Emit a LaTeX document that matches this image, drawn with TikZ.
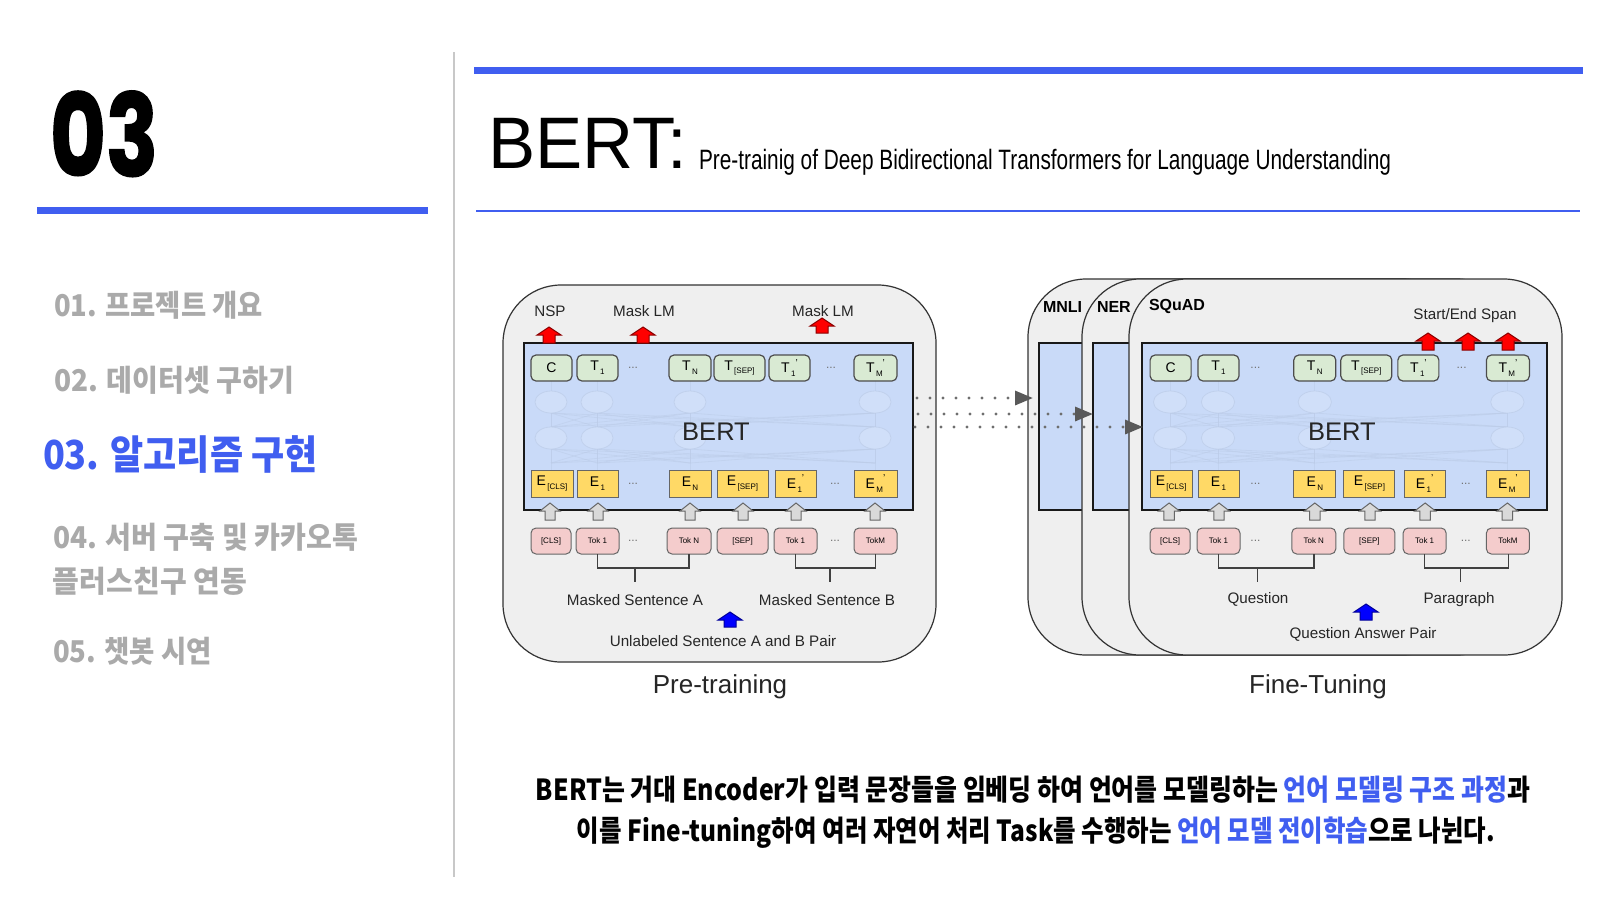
\documentclass[tikz,border=0pt]{standalone}
\usepackage{fontspec}
\setmainfont{Liberation Sans}
\newfontfamily\kr{Noto Sans CJK KR}
\newfontfamily\numfont{Poppins}[BoldFeatures={FakeBold=1.5}]
\usetikzlibrary{arrows.meta,calc}

\definecolor{accent}{RGB}{64,94,240}
\definecolor{menugray}{RGB}{170,170,170}
\definecolor{divgray}{RGB}{200,200,200}
\definecolor{panelfill}{RGB}{239,239,239}
\definecolor{bertfill}{RGB}{201,218,248}
\definecolor{ghostfill}{RGB}{208,223,249}
\definecolor{ghostline}{RGB}{188,204,232}
\definecolor{tgreen}{RGB}{217,234,211}
\definecolor{eyellow}{RGB}{255,217,102}
\definecolor{tokpink}{RGB}{244,204,204}
\definecolor{upgray}{RGB}{217,217,217}
\definecolor{dotgray}{RGB}{110,110,110}

% subscript / superscript helpers for token labels
\newcommand\tsb[1]{\raisebox{-0.5ex}{\fontsize{4}{4}\selectfont\,#1}}
\newcommand\tsp[1]{\raisebox{0.9ex}{\fontsize{5}{5}\selectfont #1}}

% box given by its corners (x1,y1) (x2,y2) in pixel units
\newcommand\pbox[7]{%
  \node[#2, minimum width={(#5-#3)*0.5pt}, minimum height={(#6-#4)*0.5pt}]
    (#1) at ({(#3+#5)/2},{(#4+#6)/2}) {#7};}

% upward block arrow: style, x, tip y, base y, half head, half shaft
\newcommand\uparr[6]{%
  \draw[#1] (#2,#3) -- ({#2+#5},{#3+8}) -- ({#2+#6},{#3+8}) -- ({#2+#6},#4)
    -- ({#2-#6},#4) -- ({#2-#6},{#3+8}) -- ({#2-#5},{#3+8}) -- cycle;}

% inner part of a BERT block: outputs, hidden layers, embeddings, inputs
\newcommand\bertcore[1]{%
  \foreach \gx in {551,597,690,875}{\draw[ghostwire] (\gx,381) -- (\gx,470);}
  \foreach \ga in {551,597,690,875}{\foreach \gb in {551,597,690,875}{
    \draw[ghostwire] (\ga,413) -- (\gb,427);
    \draw[ghostwire] (\ga,449) -- (\gb,463);}}
  \foreach \gx in {551,597,690,875}{
    \draw[ghost] (\gx,402) ellipse [x radius=8pt, y radius=5.5pt];
    \draw[ghost] (\gx,438) ellipse [x radius=8pt, y radius=5.5pt];}
  \node[font=\fontsize{12.75}{13}\selectfont, text=black!85] (#1name) at (716,432) {BERT};
  \pbox{#1t0}{tbox}{531}{355}{572}{381}{C}
  \pbox{#1t1}{tbox}{577}{355}{618}{381}{T\tsb{1}}
  \pbox{#1tn}{tbox}{669}{355}{711}{381}{T\tsb{N}}
  \pbox{#1ts}{tbox}{714}{355}{765}{381}{T\tsb{[SEP]}}
  \pbox{#1tb}{tbox}{769}{355}{810}{381}{T\tsb{1}\tsp{'}}
  \pbox{#1tm}{tbox}{854}{355}{897}{381}{T\tsb{M}\tsp{'}}
  \node[dotsl] (#1tda) at (633,368) {...};
  \node[dotsl] (#1tdb) at (831,368) {...};
  \pbox{#1e0}{ebox}{531}{470}{573}{497}{E\tsb{[CLS]}}
  \pbox{#1e1}{ebox}{577}{470}{618}{497}{E\tsb{1}}
  \pbox{#1en}{ebox}{669}{470}{711}{497}{E\tsb{N}}
  \pbox{#1es}{ebox}{717}{470}{768}{497}{E\tsb{[SEP]}}
  \pbox{#1eb}{ebox}{775}{470}{816}{497}{E\tsb{1}\tsp{'}}
  \pbox{#1em}{ebox}{854}{470}{897}{497}{E\tsb{M}\tsp{'}}
  \node[dotsl] (#1eda) at (633,484) {...};
  \node[dotsl] (#1edb) at (835,484) {...};
  \foreach \ax in {550,598,690,743,796,875}{\uparr{grayarrow}{\ax}{503}{520}{10}{5}}
  \pbox{#1k0}{tokbox}{531}{528}{571}{554}{[CLS]}
  \pbox{#1k1}{tokbox}{576}{528}{619}{554}{Tok 1}
  \pbox{#1kn}{tokbox}{667}{528}{711}{554}{Tok N}
  \pbox{#1ks}{tokbox}{717}{528}{768}{554}{[SEP]}
  \pbox{#1kb}{tokbox}{774}{528}{817}{554}{Tok 1}
  \pbox{#1km}{tokbox}{854}{528}{897}{554}{TokM}
  \node[dotsl] (#1kda) at (633,541) {...};
  \node[dotsl] (#1kdb) at (835,541) {...};
  \coordinate (#1ba) at (635,568);
  \coordinate (#1bb) at (830,568);
  \draw[bracket] (#1k1.south) |- (#1ba) -| (#1kn.south);
  \draw[bracket] (#1ba) -- ++(0,14);
  \draw[bracket] (#1kb.south) |- (#1bb) -| (#1km.south);
  \draw[bracket] (#1bb) -- ++(0,14);
}

\begin{document}
\begin{tikzpicture}[x=0.5pt,y=-0.5pt,
  every node/.style={inner sep=0pt, outer sep=0pt},
  panel/.style={draw=black!80, fill=panelfill, line width=0.6pt, rounded corners=29pt},
  bertbox/.style={draw=black!90, fill=bertfill, line width=1.1pt},
  tbox/.style={draw=black!70, fill=tgreen, line width=0.6pt, rounded corners=2.5pt,
    font=\fontsize{7}{7}\selectfont},
  ebox/.style={draw=black!60, fill=eyellow, line width=0.5pt,
    font=\fontsize{7}{7}\selectfont},
  tokbox/.style={draw=black!60, fill=tokpink, line width=0.5pt, rounded corners=2.5pt,
    font=\fontsize{4}{4}\selectfont},
  dotsl/.style={text=black!55, font=\fontsize{6}{6}\selectfont},
  ghost/.style={draw=ghostline, fill=ghostfill, line width=0.4pt, draw opacity=0.7},
  ghostwire/.style={draw=ghostline, line width=0.4pt, opacity=0.55},
  grayarrow/.style={draw=black!60, fill=upgray, line width=0.5pt},
  redarrow/.style={draw=red!55!black, fill=red, line width=0.5pt},
  bluearrow/.style={draw=blue!60!black, fill=blue, line width=0.5pt},
  bracket/.style={draw=black!75, line width=0.6pt},
  lbl/.style={text=black!85, font=\fontsize{7.6}{8}\selectfont},
  task/.style={text=black, font=\bfseries\fontsize{8}{8}\selectfont, anchor=west},
  caption/.style={text=black!85, font=\fontsize{13}{13}\selectfont},
  menu/.style={anchor=base west, text=menugray, font=\kr\bfseries\fontsize{15}{15}\selectfont},
  dotline/.style={draw=dotgray, line width=1.6pt, line cap=round,
    dash pattern=on 0pt off 6.5pt,
    -{Triangle[length=9pt,width=7pt,color=black!65,line cap=butt]}}
]
\fill[white] (0,0) rectangle (1620,912);
\path[use as bounding box] (0,0) rectangle (1620,912);

% ---------- left column ----------
\node[anchor=base west] (secnum) at (50,176)
  {\numfont\bfseries\fontsize{57}{57}\selectfont\resizebox{54pt}{\height}{03}};
\fill[accent] (37,207) rectangle (428,214);
\draw[divgray, line width=1pt] (454,52) -- (454,877);

\node[menu] (m1) at (54,316) {\resizebox{104.5pt}{\height}{01. 프로젝트 개요}};
\node[menu] (m2) at (54,391) {\resizebox{120pt}{\height}{02. 데이터셋 구하기}};
\node[menu, text=accent, font=\kr\bfseries\fontsize{20}{20}\selectfont]
  (m3) at (43,469) {\resizebox{137.5pt}{\height}{03. 알고리즘 구현}};
\node[menu] (m4) at (53,548) {\resizebox{152.5pt}{\height}{04. 서버 구축 및 카카오톡}};
\node[menu] (m4b) at (53,592) {\resizebox{97pt}{\height}{플러스친구 연동}};
\node[menu] (m5) at (53,662) {\resizebox{79.5pt}{\height}{05. 챗봇 시연}};

% ---------- heading ----------
\fill[accent] (474,67) rectangle (1583,74);
\node[anchor=base west] (title) at (488,168)
  {\fontsize{36.5}{36.5}\selectfont\resizebox{99.5pt}{\height}{BERT:}};
\node[anchor=base west] (subtitle) at (699,169)
  {\fontsize{14}{14}\selectfont\resizebox{346pt}{\height}{Pre-trainig of Deep Bidirectional Transformers for Language Understanding}};
\fill[accent] (476,210) rectangle (1580,212);

% ---------- pre-training ----------
\pbox{ppanel}{panel}{503}{285}{936}{662}{}
\pbox{pbert}{bertbox}{524}{343}{913}{510}{}
\bertcore{p}
\node[lbl] (pnsp) at (550,311) {NSP};
\node[lbl] (pmlm) at (644,311) {Mask LM};
\node[lbl] (pmlmb) at (823,311) {Mask LM};
\uparr{redarrow}{549}{327}{343}{12}{6}
\uparr{redarrow}{643}{327}{343}{12}{6}
\uparr{redarrow}{822}{318}{333}{12}{6}
\node[lbl] (psa) at (635,600) {Masked Sentence A};
\node[lbl] (psb) at (827,600) {Masked Sentence B};
\uparr{bluearrow}{730}{612}{627}{12}{6}
\node[lbl] (ppair) at (723,641) {Unlabeled Sentence A and B Pair};
\node[caption] (pcap) at (720,687) {Pre-training};

% ---------- fine-tuning ----------
\pbox{mpanel}{panel}{1028}{279}{1461}{655}{}
\pbox{mbert}{bertbox}{1039}{343}{1444}{510}{}
\node[task] (mname) at (1043,307) {MNLI};
\pbox{npanel}{panel}{1082}{279}{1515}{655}{}
\pbox{nbert}{bertbox}{1093}{343}{1498}{510}{}
\node[task] (nname) at (1097,307) {NER};
\pbox{spanel}{panel}{1129}{279}{1562}{655}{}
\pbox{sbert}{bertbox}{1142}{343}{1547}{510}{}
\node[task] (sname) at (1149,306) {SQuAD};
\begin{scope}[xshift=298.25pt, xscale=1.041]
  \bertcore{s}
\end{scope}
\node[lbl] (sspan) at (1465,316) {Start/End Span};
\uparr{redarrow}{1428}{333}{350}{12}{6}
\uparr{redarrow}{1468}{333}{350}{12}{6}
\uparr{redarrow}{1508}{333}{350}{12}{6}
\node[lbl] (sq) at (1258,599) {Question};
\node[lbl] (sp) at (1459,600) {Paragraph};
\uparr{bluearrow}{1366}{604}{620}{12}{6}
\node[lbl] (spair) at (1363,634) {Question Answer Pair};
\node[caption] (scap) at (1318,687) {Fine-Tuning};

% ---------- transfer arrows ----------
\coordinate (d1) at (1033,398);
\coordinate (d2) at (1093,414);
\coordinate (d3) at (1143,427);
\draw[dotline] (pbert.east |- d1) ++(4,0) -- (d1);
\draw[dotline] (pbert.east |- d2) ++(5,0) -- (d2);
\draw[dotline] (pbert.east |- d3) ++(2,0) -- (d3);

% ---------- summary ----------
\node[anchor=base] (sum1) at (1033,800)
  {\kr\bfseries\fontsize{14.5}{15}\selectfont\resizebox{497pt}{\height}{BERT는 거대 Encoder가 입력 문장들을 임베딩 하여 언어를 모델링하는 \textcolor{accent}{언어 모델링 구조 과정}과}};
\node[anchor=base] (sum2) at (1036,841)
  {\kr\bfseries\fontsize{14.5}{15}\selectfont\resizebox{459pt}{\height}{이를 Fine-tuning하여 여러 자연어 처리 Task를 수행하는 \textcolor{accent}{언어 모델 전이학습}으로 나뉜다.}};
\end{tikzpicture}
\end{document}
